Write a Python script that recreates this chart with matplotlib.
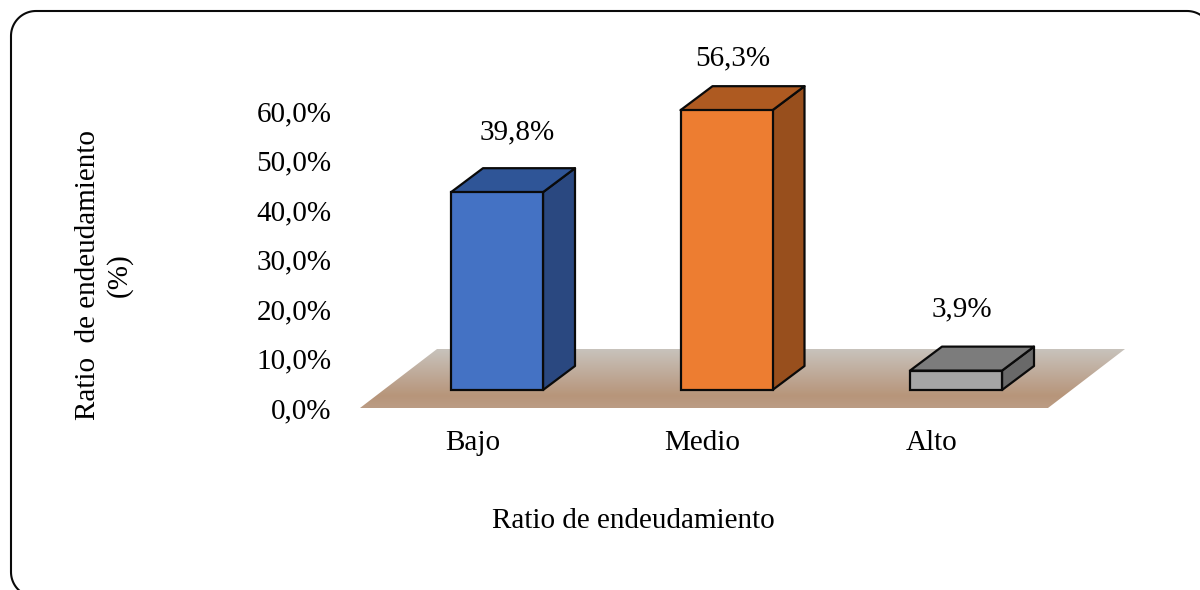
import numpy as np
import matplotlib
matplotlib.use("Agg")
import matplotlib.pyplot as plt
from matplotlib.colors import LinearSegmentedColormap
from matplotlib.lines import Line2D
from matplotlib.patches import Polygon

categories = ["Bajo", "Medio", "Alto"]
values = [39.8, 56.3, 3.9]
value_labels = ["39,8%", "56,3%", "3,9%"]
y_ticks = [0, 10, 20, 30, 40, 50, 60]
y_tick_labels = ["0,0%", "10,0%", "20,0%", "30,0%", "40,0%", "50,0%", "60,0%"]
x_title = "Ratio de endeudamiento"
y_title = "Ratio  de endeudamiento\n(%)"

front_colors = ["#4472c4", "#ed7d31", "#a5a5a5"]
top_colors = ["#2f5597", "#ae5a21", "#7c7c7c"]
side_colors = ["#2a4880", "#984f1d", "#696969"]

W, H = 1200, 590
PX_X = 229.5  # pixels per category
PX_Y = 4.97  # pixels per percent
X0, Y0 = 497, 390  # pixel of first bar centre, bar base
BAR_W = 92 / PX_X
DX = 32 / PX_X
DY = 24 / PX_Y

plt.rcParams["font.family"] = ["Liberation Serif", "DejaVu Serif"]
plt.rcParams["font.size"] = 21


def px(x, y):
    return (x - X0) / PX_X, (Y0 - y) / PX_Y


fig = plt.figure(figsize=(W / 100, H / 100), dpi=100)
ax = fig.add_axes([0, 0, 1, 1])
ax.set_xlim(px(0, 0)[0], px(W, 0)[0])
ax.set_ylim(px(0, H)[1], px(0, 0)[1])
ax.axis("off")

# rounded frame, runs past the right and bottom of the picture
r = 25
left, top, right, bottom = 11, 11, 1212, 597
corners = [(right - r, bottom - r, -90, 0), (right - r, top + r, 0, 90),
           (left + r, top + r, 90, 180), (left + r, bottom - r, 180, 270)]
frame_x, frame_y = [], []
for cx, cy, a0, a1 in corners:
    t = np.radians(np.linspace(a0, a1, 30))
    frame_x.extend(cx + r * np.cos(t))
    frame_y.extend(cy - r * np.sin(t))
frame_x.append(frame_x[0])
frame_y.append(frame_y[0])
fig.add_artist(Line2D(np.array(frame_x) / W, 1 - np.array(frame_y) / H, color="#0a0a0a", lw=1.5,
                      transform=fig.transFigure, zorder=1))

# floor with gradient
floor = Polygon([px(360, 408), px(1048, 408), px(1125, 349), px(437, 349)], closed=True,
                fc="none", ec="none", transform=ax.transData)
ax.add_patch(floor)
cmap = LinearSegmentedColormap.from_list("floor", [(0, "#c8c3bd"), (0.8, "#b7957a"), (1, "#bb9c84")])
x_a, y_a = px(360, 408)
x_b, y_b = px(1125, 349)
img = ax.imshow(np.linspace(0, 1, 64).reshape(-1, 1), cmap=cmap, aspect="auto",
                extent=(x_a, x_b, y_a, y_b), origin="upper", zorder=2)
img.set_clip_path(floor)
ax.set_xlim(px(0, 0)[0], px(W, 0)[0])
ax.set_ylim(px(0, H)[1], px(0, 0)[1])

# 3d bars
for i, v in enumerate(values):
    x1, x2 = i - BAR_W / 2, i + BAR_W / 2
    ax.add_patch(Polygon([(x2, 0), (x2 + DX, DY), (x2 + DX, v + DY), (x2, v)], fc=side_colors[i],
                         ec="#0a0a0a", lw=1.6, joinstyle="round", zorder=3))
    ax.add_patch(Polygon([(x1, v), (x2, v), (x2 + DX, v + DY), (x1 + DX, v + DY)], fc=top_colors[i],
                         ec="#0a0a0a", lw=1.6, joinstyle="round", zorder=3))
    ax.bar(i, v, width=BAR_W, color=front_colors[i], edgecolor="#0a0a0a", linewidth=1.6, zorder=4)

label_dx = [20, 6, 6]
label_dy = [60, 52, 61]
for i, v in enumerate(values):
    ax.text(i + label_dx[i] / PX_X, v + label_dy[i] / PX_Y, value_labels[i], ha="center", va="center", zorder=5)

# axes carrying the ticks
tick_ax = fig.add_axes([358 / W, 1 - 408 / H, 688 / W, (408 - 111) / H])
tick_ax.patch.set_alpha(0)
tick_ax.set_xlim(-0.5, 2.5)
tick_ax.set_ylim(0, 60)
tick_ax.set_xticks(range(3))
tick_ax.set_xticklabels(categories)
tick_ax.set_yticks(y_ticks)
tick_ax.set_yticklabels(y_tick_labels)
tick_ax.tick_params(axis="both", length=0)
tick_ax.tick_params(axis="x", pad=16)
tick_ax.tick_params(axis="y", pad=19)
for s in tick_ax.spines.values():
    s.set_visible(False)

fig.text(633 / W, 1 - 521 / H, x_title, ha="center", va="center")
fig.text(104 / W, 1 - 275 / H, y_title, ha="center", va="center", rotation=90, linespacing=1.25)

fig.savefig("out.png", dpi=100)
